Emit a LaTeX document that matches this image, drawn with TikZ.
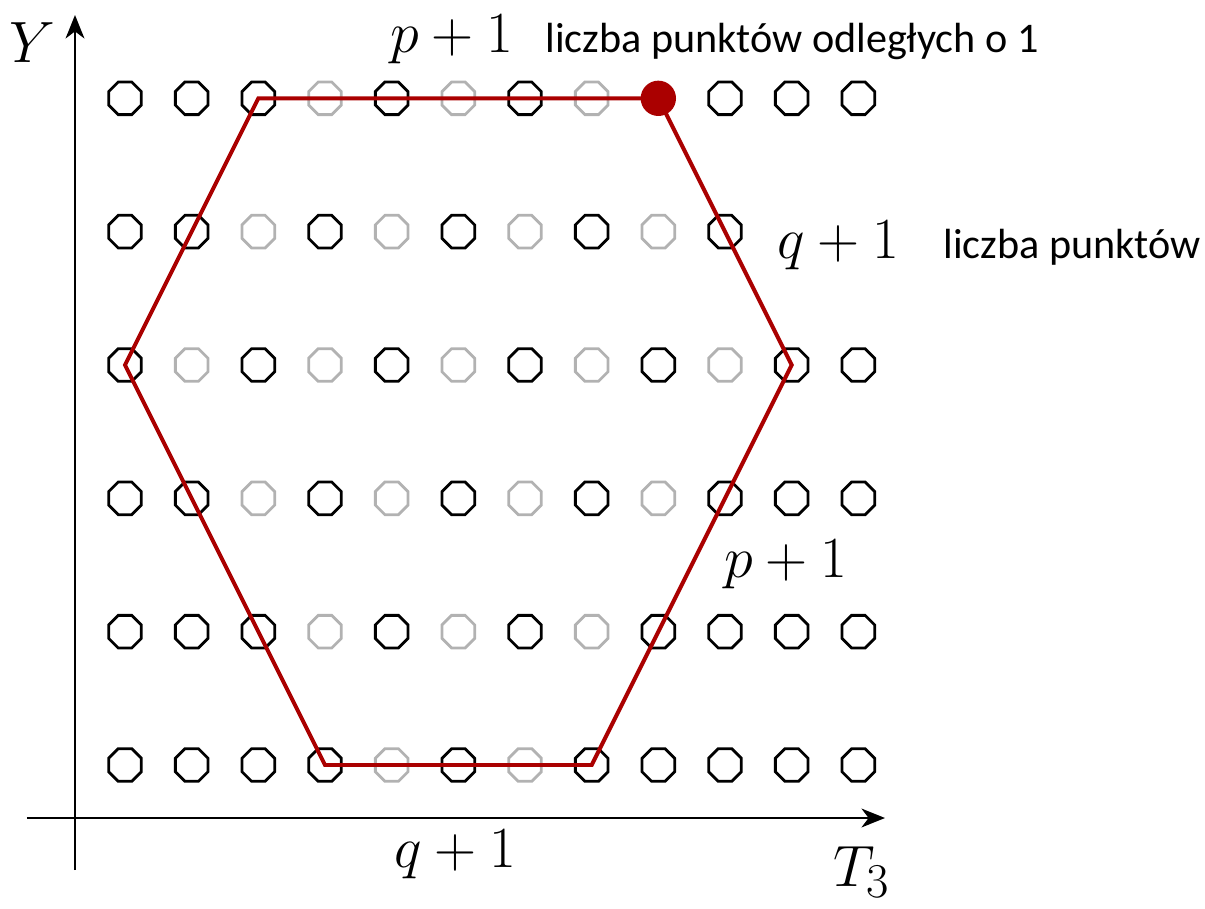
\documentclass[tikz,border=0pt]{standalone}
\usepackage{fontspec}
\newfontfamily\notefont{Carlito}
\usetikzlibrary{arrows.meta,shapes.geometric}
\definecolor{hexred}{RGB}{170,0,0}
\definecolor{ptgray}{RGB}{178,178,178}

\begin{document}
\begin{tikzpicture}[
  dot/.style={regular polygon, regular polygon sides=8, minimum size=5.3mm, inner sep=0pt, line width=1.2pt},
  dotb/.style={dot, draw=black},
  dotg/.style={dot, draw=ptgray},
  dotr/.style={circle, minimum size=5.3mm, inner sep=0pt, fill=hexred},
  axis/.style={line width=1.1pt, -{Stealth[length=10pt,width=8pt,inset=3pt]}},
  hex/.style={draw=hexred, line width=1.7pt},
  lbl/.style={font=\fontsize{24}{28}\selectfont, inner sep=0pt, anchor=base},
  axlbl/.style={font=\fontsize{28}{32}\selectfont, inner sep=0pt, anchor=base},
  note/.style={font=\notefont\fontsize{18}{22}\selectfont, inner sep=0pt, anchor=base west}
]
\useasboundingbox (-1.875,-2.145) rectangle (16.2,11.475);

% axes
\coordinate (xs) at (-1.47,-0.795);
\coordinate (xe) at (11.4,-0.795);
\coordinate (ys) at (-0.75,-1.575);
\coordinate (ye) at (-0.75,11.25);
\draw[axis] (xs) -- (xe);
\draw[axis] (ys) -- (ye);

% lattice, row 0 on top
\foreach \r/\cols in {0/{b,b,b,g,b,g,b,g,r,b,b,b},
                      1/{b,b,g,b,g,b,g,b,g,b},
                      2/{b,g,b,g,b,g,b,g,b,g,b,b},
                      3/{b,b,g,b,g,b,g,b,g,b,b,b},
                      4/{b,b,b,g,b,g,b,g,b,b,b,b},
                      5/{b,b,b,b,g,b,g,b,b,b,b,b}}
  \foreach \s [count=\c from 0] in \cols
    \node[dot\s] (p-\r-\c) at (\c,{10-2*\r}) {};

% hexagon
\draw[hex] (p-0-2.center) -- (p-0-8.center) -- (p-2-10.center) -- (p-5-7.center)
  -- (p-5-3.center) -- (p-2-0.center) -- cycle;

% labels
\node[axlbl] (ylab) at (-1.39,10.53) {$Y$};
\node[axlbl] (tlab) at (11.05,-1.82) {$T_3$};
\node[lbl] (ptop) at (4.9,10.68) {$p+1$};
\node[lbl] (qright) at (10.7,7.6) {$q+1$};
\node[lbl] (pright) at (9.91,2.82) {$p+1$};
\node[lbl] (qbottom) at (4.95,-1.53) {$q+1$};
\node[note] (ntop) at (6.3,10.68) {liczba punktów odległych o 1};
\node[note] (nright) at (12.27,7.6) {liczba punktów};
\end{tikzpicture}
\end{document}
